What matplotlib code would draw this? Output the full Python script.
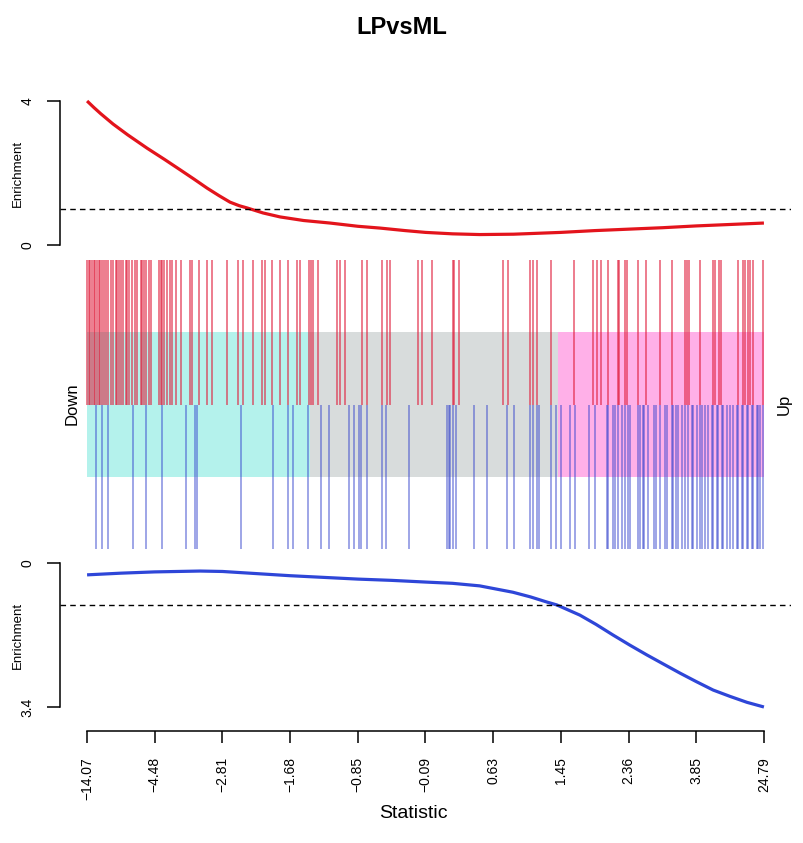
import matplotlib
matplotlib.use("Agg")
import matplotlib.pyplot as plt

plt.rcParams["font.family"] = ["Liberation Sans", "DejaVu Sans"]

W, H = 804, 843

# x axis is gene rank, in percent of all genes (0 = most down, 100 = most up)
tick_pos = [0, 10, 20, 30, 40, 50, 60, 70, 80, 90, 100]
tick_labels = ["\u221214.07", "\u22124.48", "\u22122.81", "\u22121.68", "\u22120.85",
               "\u22120.09", "0.63", "1.45", "2.36", "3.85", "24.79"]

# shaded quantile bands: down / middle / up
band_edges = [0, 32.9, 69.6, 100]
band_colors = ["#b4f2ec", "#d8dcdc", "#ffb0e8"]

# up-set genes (red bars) and down-set genes (blue bars), rank percent
red_pos = [0.0, 0.25, 0.49, 0.74, 0.99, 1.23, 1.48, 1.73, 1.96, 2.22, 2.47, 2.76,
           3.10, 3.50, 3.88, 4.24, 4.48, 4.73, 5.07, 5.36, 5.72, 5.95, 6.20, 6.69,
           7.05, 7.34, 7.93, 8.17, 8.42, 8.67, 9.16, 9.41, 10.64, 10.89, 11.12,
           11.37, 11.86, 12.26, 12.60, 13.10, 13.84, 15.21, 15.55, 16.54, 17.68,
           18.46, 20.68, 22.30, 23.04, 24.52, 25.85, 26.29, 27.33, 28.51, 29.69,
           31.02, 31.46, 32.79, 33.09, 33.38, 34.12, 36.93, 37.37, 38.11, 40.62,
           41.36, 43.57, 44.31, 44.76, 48.89, 49.48, 50.96, 54.06, 54.21, 54.95,
           61.45, 62.19, 65.44, 65.88, 66.47, 68.54, 71.94, 74.74, 75.33, 75.92,
           76.96, 78.43, 78.58, 79.47, 79.76, 81.39, 82.57, 84.64, 86.41, 88.33,
           88.63, 88.92, 90.55, 92.47, 92.76, 93.35, 93.65, 96.16, 96.90, 97.19,
           97.64, 97.93, 98.37, 99.85]

blue_pos = [1.33, 2.22, 3.10, 6.79, 8.71, 11.08, 14.62, 15.95, 16.25, 22.75, 27.47,
            29.69, 30.43, 32.64, 34.56, 35.75, 38.70, 39.44, 40.18, 40.47, 41.36,
            43.57, 44.17, 47.56, 53.18, 53.40, 53.62, 54.06, 54.51, 57.16, 59.08,
            62.04, 63.07, 65.44, 65.88, 66.47, 66.77, 68.54, 69.28, 70.01, 71.34,
            72.08, 74.15, 75.04, 76.81, 76.96, 77.70, 77.99, 78.43, 79.03, 79.47,
            79.91, 80.21, 81.39, 81.68, 82.13, 82.27, 82.87, 83.75, 84.05, 84.64,
            85.38, 85.67, 86.41, 86.56, 87.00, 87.30, 87.89, 88.33, 88.77, 89.36,
            89.51, 90.10, 90.55, 90.84, 91.29, 91.73, 92.32, 92.47, 93.06, 93.21,
            93.80, 93.94, 94.53, 94.98, 95.42, 96.01, 96.16, 96.75, 96.90, 97.49,
            97.64, 98.23, 98.37, 98.97, 99.11, 99.41, 99.85]

# running enrichment curves
red_x = [0, 1, 2, 3.84, 6, 8.86, 11.5, 13.74, 15.8, 17.73, 19.5, 21.12, 22.5, 23.63,
         26, 28.51, 32, 35.89, 40, 43.28, 47, 50, 54, 58, 63, 70, 75, 80, 85, 90,
         95, 100]
red_enrich = [4.00, 3.82, 3.65, 3.36, 3.06, 2.69, 2.37, 2.09, 1.83, 1.58, 1.37, 1.19,
              1.09, 1.03, 0.89, 0.78, 0.68, 0.61, 0.52, 0.47, 0.40, 0.35, 0.31, 0.29,
              0.30, 0.35, 0.40, 0.44, 0.48, 0.53, 0.57, 0.61]

blue_x = [0, 5, 10, 16.7, 20, 24, 30, 35, 40, 45, 50, 54, 58, 62.9, 65.5, 67.9, 69.4,
          72.8, 75.2, 77.7, 80.2, 82.7, 85.2, 87.6, 90, 92.5, 95, 97.5, 100]
blue_enrich = [0.28, 0.24, 0.21, 0.19, 0.20, 0.24, 0.30, 0.34, 0.38, 0.41, 0.45, 0.48,
               0.54, 0.69, 0.80, 0.92, 0.99, 1.23, 1.45, 1.70, 1.94, 2.17, 2.39, 2.60,
               2.80, 3.00, 3.15, 3.29, 3.40]


def px_axes(fig, x0, y0, x1, y1):
    return fig.add_axes([x0 / W, 1 - y1 / H, (x1 - x0) / W, (y1 - y0) / H])


def style_left(ax, lo, hi, labels):
    for s in ["top", "right", "bottom"]:
        ax.spines[s].set_visible(False)
    ax.spines["left"].set_bounds(lo, hi)
    ax.spines["left"].set_linewidth(1.1)
    ax.set_yticks([lo, hi])
    ax.set_yticklabels(labels, rotation=90, va="center")
    ax.tick_params(axis="y", length=9.5, width=1.1, pad=9, labelsize=10)
    ax.set_xticks([])


fig = plt.figure(figsize=(W / 100, H / 100), dpi=100)

# top panel: enrichment of red set
ax1 = px_axes(fig, 60, 95, 791, 251)
ax1.plot(red_x, red_enrich, color="#e3141c", lw=2.3, solid_capstyle="butt")
ax1.axhline(1, color="black", lw=1.0, ls=(0, (4, 3)))
ax1.set_xlim(-4, 104)
ax1.set_ylim(-1 / 6, 4 + 1 / 6)
style_left(ax1, 0, 4, ["0", "4"])

# middle panel: barcode
ax2 = px_axes(fig, 60, 260, 791, 549)
ax2.set_xlim(-4, 104)
ax2.set_ylim(-1, 1)
for i, c in enumerate(band_colors):
    ax2.bar(band_edges[i], 1.0, width=band_edges[i + 1] - band_edges[i], bottom=-0.5,
            align="edge", color=c, linewidth=0, zorder=1)
ax2.vlines(red_pos, 0, 1, color="#e01c3a", alpha=0.7, lw=1.15, zorder=2)
ax2.vlines(blue_pos, -1, 0, color="#3342cc", alpha=0.6, lw=1.1, zorder=2)
ax2.axis("off")
fig.text(72 / W, 1 - 404 / H, "Down", rotation=90, ha="center", va="center", fontsize=12)
fig.text(784 / W, 1 - 404 / H, "Up", rotation=90, ha="center", va="center", fontsize=12)

# bottom panel: enrichment of blue set, with the rank axis
ax3 = px_axes(fig, 60, 557, 791, 731)
ax3.plot(blue_x, blue_enrich, color="#2e46d8", lw=2.3, solid_capstyle="butt")
ax3.axhline(1, color="black", lw=1.0, ls=(0, (4, 3)))
ax3.set_xlim(-4, 104)
ax3.set_ylim((731 - 563) / 42.353, (557 - 563) / 42.353)
style_left(ax3, 0, 3.4, ["0", "3.4"])
ax3.spines["bottom"].set_visible(True)
ax3.spines["bottom"].set_bounds(0, 100)
ax3.spines["bottom"].set_linewidth(1.1)
ax3.set_xticks(tick_pos)
ax3.set_xticklabels(tick_labels, rotation=90, va="top")
ax3.tick_params(axis="x", length=8.6, width=1.1, pad=10, labelsize=10)

fig.text(18 / W, 1 - 173 / H, "Enrichment", rotation=90, ha="center", va="center", fontsize=9.5)
fig.text(18 / W, 1 - 635 / H, "Enrichment", rotation=90, ha="center", va="center", fontsize=9.5)
fig.text(402 / W, 1 - 28 / H, "LPvsML", ha="center", va="center", fontsize=17, fontweight="bold")
fig.text(413 / W, 1 - 814 / H, "Statistic", ha="center", va="center", fontsize=14)

fig.savefig("out.png", dpi=100)
